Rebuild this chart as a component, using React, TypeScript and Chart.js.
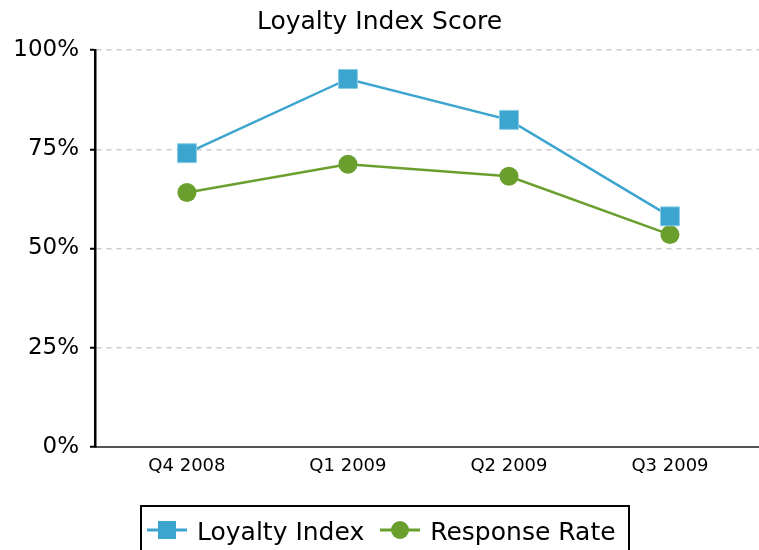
import React, { useEffect, useRef } from "react";
import { Chart, registerables } from "chart.js";

Chart.register(...registerables);

const TITLE = "Loyalty Index Score";
const CATEGORIES = ["Q4 2008", "Q1 2009", "Q2 2009", "Q3 2009"];
const LOYALTY_INDEX = [74.0, 92.7, 82.4, 58.1];
const RESPONSE_RATE = [64.1, 71.2, 68.2, 53.5];
const Y_TICKS = [0, 25, 50, 75, 100];

const BLUE = "#3BA5CF";
const GREEN = "#6A9F2E";
const FONT = "'DejaVu Sans', sans-serif";

function Marker({ color, shape }: { color: string; shape: "rect" | "circle" }) {
  return (
    <svg width={40} height={22} style={{ display: "block" }}>
      <line x1={0} y1={11} x2={40} y2={11} stroke={color} strokeWidth={3} />
      {shape === "rect" ? (
        <rect x={11} y={2} width={18} height={18} fill={color} />
      ) : (
        <circle cx={20} cy={11} r={9} fill={color} />
      )}
    </svg>
  );
}

export default function App() {
  const ref = useRef<HTMLCanvasElement | null>(null);

  useEffect(() => {
    if (!ref.current) return;
    const chart = new Chart(ref.current, {
      type: "line",
      data: {
        datasets: [
          {
            label: "Loyalty Index",
            data: LOYALTY_INDEX.map((v, i) => ({ x: i, y: v })),
            borderColor: BLUE,
            backgroundColor: BLUE,
            borderWidth: 2.5,
            pointStyle: "rect",
            pointRadius: 13.4,
            pointBackgroundColor: BLUE,
            pointBorderColor: "#8CCDE6",
            pointBorderWidth: 1,
            tension: 0,
            clip: false,
          },
          {
            label: "Response Rate",
            data: RESPONSE_RATE.map((v, i) => ({ x: i, y: v })),
            borderColor: GREEN,
            backgroundColor: GREEN,
            borderWidth: 2.5,
            pointStyle: "circle",
            pointRadius: 9.5,
            pointBackgroundColor: GREEN,
            pointBorderColor: GREEN,
            pointBorderWidth: 0,
            tension: 0,
            clip: false,
          },
        ],
      },
      options: {
        responsive: false,
        animation: false,
        layout: { autoPadding: false, padding: { left: 0, right: 0, top: 0, bottom: 0 } },
        plugins: {
          legend: { display: false },
          tooltip: { enabled: false },
          title: {
            display: true,
            text: TITLE,
            color: "#000",
            font: { family: FONT, size: 25, weight: "normal", lineHeight: 1.2 },
            padding: { top: 7, bottom: 13 },
          },
        },
        scales: {
          x: {
            type: "linear",
            min: -0.571,
            max: 3.553,
            afterFit: (s: any) => {
              s.height = 103;
              s.paddingLeft = 0;
              s.paddingRight = 0;
            },
            grid: { display: false, drawTicks: false },
            border: { display: true, color: "#555", width: 2 },
            ticks: {
              stepSize: 1,
              includeBounds: false,
              autoSkip: false,
              maxRotation: 0,
              padding: 9,
              color: "#000",
              font: { family: FONT, size: 18 },
              callback: (v: any) =>
                Number.isInteger(v) && CATEGORIES[v] !== undefined ? CATEGORIES[v] : "",
            },
          },
          y: {
            min: 0,
            max: 100,
            afterFit: (s: any) => {
              s.width = 95;
            },
            afterBuildTicks: (s: any) => {
              s.ticks = Y_TICKS.map((v) => ({ value: v }));
            },
            grid: {
              color: "#cccccc",
              lineWidth: 1.5,
              tickColor: "#000",
              tickLength: 5,
              tickWidth: 2,
              tickBorderDash: [],
            },
            border: { display: true, color: "#000", width: 2.5, dash: [5, 5] },
            ticks: {
              padding: 11,
              color: "#000",
              font: { family: FONT, size: 23 },
              callback: (v: any) => v + "%",
            },
          },
        },
      },
    });
    return () => chart.destroy();
  }, []);

  return (
    <div
      style={{
        position: "fixed",
        left: 0,
        top: 0,
        width: 759,
        height: 550,
        overflow: "hidden",
        background: "#fff",
      }}
    >
      <canvas ref={ref} width={759} height={550} style={{ display: "block" }} />
      <div
        style={{
          position: "absolute",
          left: 140,
          top: 505,
          width: 490,
          height: 70,
          boxSizing: "border-box",
          border: "2px solid #000",
          display: "flex",
          alignItems: "flex-start",
          paddingTop: 12,
          paddingLeft: 5,
          fontFamily: FONT,
          fontSize: 25,
          color: "#000",
          whiteSpace: "nowrap",
          lineHeight: "26px",
        }}
      >
        <Marker color={BLUE} shape="rect" />
        <span style={{ marginLeft: 10 }}>Loyalty Index</span>
        <span style={{ marginLeft: 16 }}>
          <Marker color={GREEN} shape="circle" />
        </span>
        <span style={{ marginLeft: 10 }}>Response Rate</span>
      </div>
    </div>
  );
}
